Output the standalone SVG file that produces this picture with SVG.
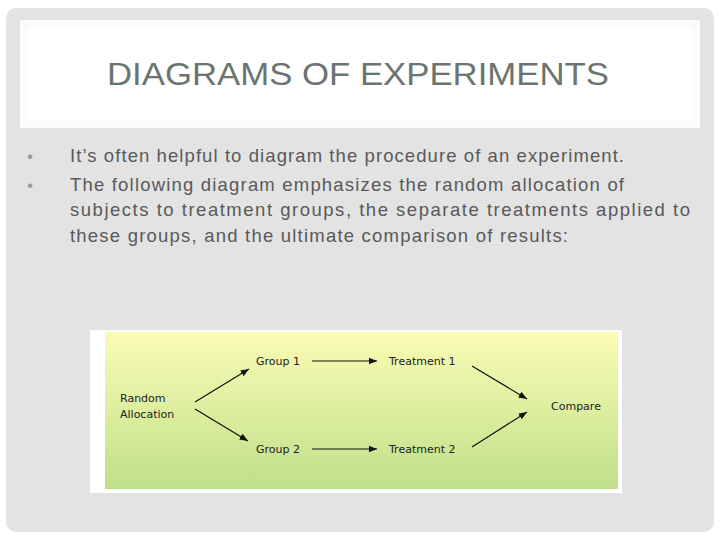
<svg xmlns="http://www.w3.org/2000/svg" width="720" height="540" viewBox="0 0 720 540">
<style>
.b{font-family:"Liberation Sans",Arial,sans-serif;font-size:18.5px;fill:#595959}
.d{font-family:"DejaVu Sans",sans-serif;font-size:11px;fill:#222}
.c line{stroke:#111;stroke-width:1.2;marker-end:url(#ah)}
</style>
<defs>
<linearGradient id="g" x1="0" y1="0" x2="0" y2="1"><stop offset="0" stop-color="#fafcb4"/><stop offset="1" stop-color="#bfe08a"/></linearGradient>
<marker id="ah" viewBox="0 0 10 10" refX="10" refY="5" markerWidth="7" markerHeight="7" orient="auto"><path d="M0,1L10,5L0,9z" fill="#111"/></marker>
</defs>
<rect width="720" height="540" fill="#fff"/>
<rect x="6" y="8" width="708" height="524" rx="10" fill="#e3e3e3"/>
<rect x="20" y="20" width="680" height="108" fill="#fbfbfb"/>
<rect x="28" y="28" width="664" height="92" fill="#fff"/>
<text x="107" y="85" textLength="502" lengthAdjust="spacingAndGlyphs" font-family="Liberation Sans,Arial,sans-serif" font-size="31" fill="#6b7470">DIAGRAMS OF EXPERIMENTS</text>
<text x="27" y="162" font-family="Liberation Sans,sans-serif" font-size="17" fill="#999">•</text>
<text class="b" x="70" y="162" textLength="554" lengthAdjust="spacing">It’s often helpful to diagram the procedure of an experiment.</text>
<text x="27" y="191" font-family="Liberation Sans,sans-serif" font-size="17" fill="#999">•</text>
<text class="b" x="70" y="191" textLength="554" lengthAdjust="spacing">The following diagram emphasizes the random allocation of</text>
<text class="b" x="70" y="216" textLength="620" lengthAdjust="spacing">subjects to treatment groups, the separate treatments applied to</text>
<text class="b" x="70" y="242" textLength="498" lengthAdjust="spacing">these groups, and the ultimate comparison of results:</text>
<rect x="90" y="330" width="532" height="163" fill="#fff"/>
<rect x="105" y="332" width="513" height="157" fill="url(#g)"/>
<g class="c">
<line x1="195" y1="402" x2="249" y2="369"/>
<line x1="195" y1="409" x2="248" y2="441"/>
<line x1="312" y1="361" x2="377" y2="361"/>
<line x1="312" y1="449" x2="377" y2="449"/>
<line x1="472" y1="366" x2="527" y2="399"/>
<line x1="472" y1="447" x2="527" y2="412"/>
</g>
<g id="random"><text class="d" x="120" y="402">Random</text><text class="d" x="120" y="418">Allocation</text></g>
<g id="group1"><text class="d" x="256" y="365">Group 1</text></g>
<g id="group2"><text class="d" x="256" y="453">Group 2</text></g>
<g id="treat1"><text class="d" x="389" y="365">Treatment 1</text></g>
<g id="treat2"><text class="d" x="389" y="453">Treatment 2</text></g>
<g id="compare"><text class="d" x="551" y="410">Compare</text></g>
</svg>
